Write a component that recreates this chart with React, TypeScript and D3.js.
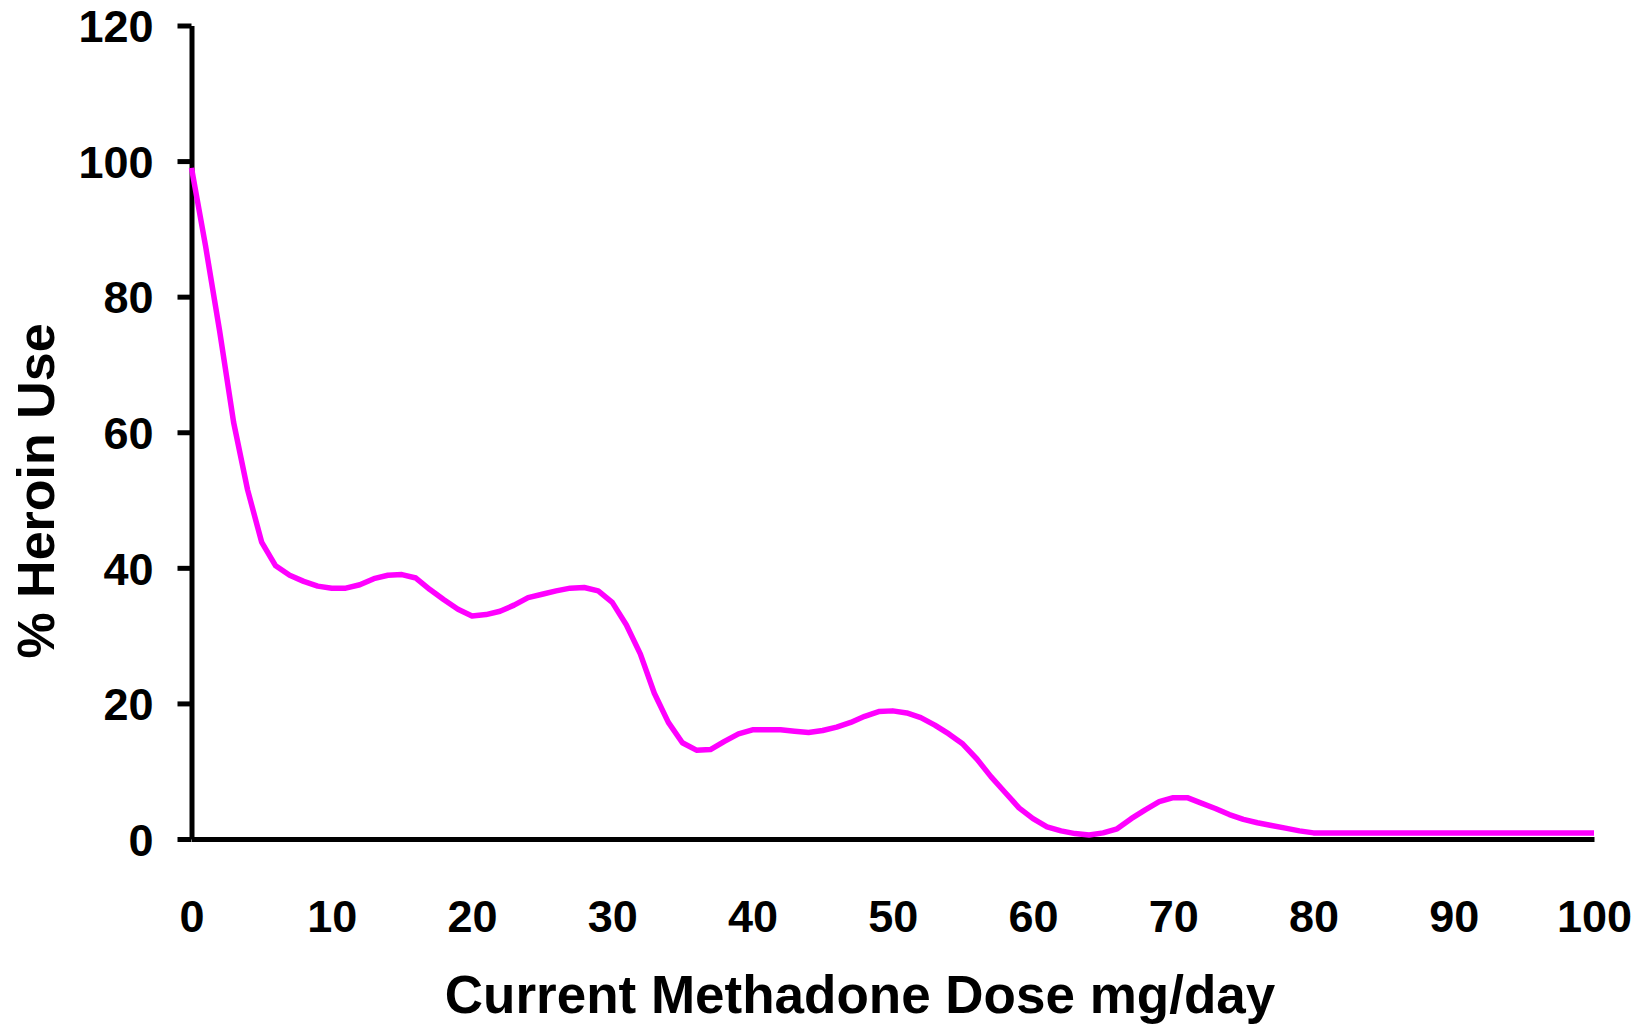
import React, { useRef, useEffect } from "react";
import * as d3 from "d3";

// dose (mg/day) and % heroin use
const doses = [
  0, 1, 2, 3, 4, 5, 6, 7, 8, 9, 10, 11, 12, 13, 14, 15, 16, 17, 18, 19, 20,
  21, 22, 23, 24, 25, 26, 27, 28, 29, 30, 31, 32, 33, 34, 35, 36, 37, 38, 39, 40,
  41, 42, 43, 44, 45, 46, 47, 48, 49, 50, 51, 52, 53, 54, 55, 56, 57, 58, 59, 60,
  61, 62, 63, 64, 65, 66, 67, 68, 69, 70, 71, 72, 73, 74, 75, 76, 77, 78, 79, 80,
  85, 90, 95, 100,
];
const heroinUse = [
  99, 87.5, 75, 61.5, 51.5, 43.8, 40.3, 38.9, 38, 37.3, 37, 37, 37.5, 38.4, 38.9, 39, 38.5, 36.8, 35.3, 33.9, 32.9,
  33.1, 33.6, 34.5, 35.6, 36.1, 36.6, 37, 37.1, 36.6, 34.9, 31.6, 27.3, 21.5, 17.2, 14.2, 13.1, 13.2, 14.4, 15.5, 16.1,
  16.1, 16.1, 15.9, 15.7, 16, 16.5, 17.2, 18.1, 18.8, 18.9, 18.6, 17.9, 16.8, 15.5, 14, 11.8, 9.2, 6.9, 4.6, 3.0,
  1.8, 1.2, 0.8, 0.6, 0.9, 1.5, 3.0, 4.3, 5.5, 6.1, 6.1, 5.3, 4.5, 3.6, 2.9, 2.4, 2.0, 1.6, 1.2, 0.9,
  0.9, 0.9, 0.9, 0.9,
];
const xTicks = [0, 10, 20, 30, 40, 50, 60, 70, 80, 90, 100];
const yTicks = [0, 20, 40, 60, 80, 100, 120];

const WIDTH = 1648;
const HEIGHT = 1027;
const FONT = "'Liberation Sans', Arial, Helvetica, sans-serif";

const App = () => {
  const svgRef = useRef<SVGSVGElement>(null);

  useEffect(() => {
    const svg = d3.select(svgRef.current);
    svg.selectAll("*").remove();

    const x = d3.scaleLinear().domain([0, 100]).range([191.5, 1594]);
    const y = d3.scaleLinear().domain([0, 120]).range([839, 25.5]);

    // y axis
    const yAxis = svg
      .append("g")
      .attr("transform", `translate(${x(0)},0)`)
      .call(d3.axisLeft(y).tickValues(yTicks).tickSize(14).tickSizeOuter(0).tickPadding(24));
    yAxis.select(".domain").attr("stroke", "#000").attr("stroke-width", 5);
    yAxis.selectAll(".tick line").attr("stroke", "#000").attr("stroke-width", 5);
    yAxis
      .selectAll(".tick text")
      .attr("dy", "0.36em")
      .attr("fill", "#000")
      .style("font-family", FONT)
      .style("font-weight", "bold")
      .style("font-size", "45px");

    // x axis (no tick marks)
    const xAxis = svg
      .append("g")
      .attr("transform", `translate(0,${y(0)})`)
      .call(d3.axisBottom(x).tickValues(xTicks).tickSize(0).tickSizeOuter(0));
    xAxis.select(".domain").attr("stroke", "#000").attr("stroke-width", 5);
    xAxis
      .selectAll(".tick text")
      .attr("y", 93)
      .attr("dy", 0)
      .attr("fill", "#000")
      .style("font-family", FONT)
      .style("font-weight", "bold")
      .style("font-size", "45px");

    // the curve
    const line = d3
      .line<number>()
      .x((d, i) => x(doses[i]))
      .y((d) => y(d))
      .curve(d3.curveLinear);

    svg
      .append("path")
      .datum(heroinUse)
      .attr("d", line)
      .attr("fill", "none")
      .attr("stroke", "#FF00FF")
      .attr("stroke-width", 5.5)
      .attr("stroke-linejoin", "round")
      .attr("stroke-linecap", "butt");

    // axis titles
    svg
      .append("text")
      .attr("x", 860)
      .attr("y", 1013)
      .attr("text-anchor", "middle")
      .style("font-family", FONT)
      .style("font-weight", "bold")
      .style("font-size", "53px")
      .text("Current Methadone Dose mg/day");

    svg
      .append("text")
      .attr("transform", `translate(54,491) rotate(-90)`)
      .attr("text-anchor", "middle")
      .style("font-family", FONT)
      .style("font-weight", "bold")
      .style("font-size", "52px")
      .text("% Heroin Use");
  }, []);

  return (
    <svg
      ref={svgRef}
      width={WIDTH}
      height={HEIGHT}
      style={{ position: "absolute", left: 0, top: 0, background: "#fff", display: "block" }}
    />
  );
};

export default App;
